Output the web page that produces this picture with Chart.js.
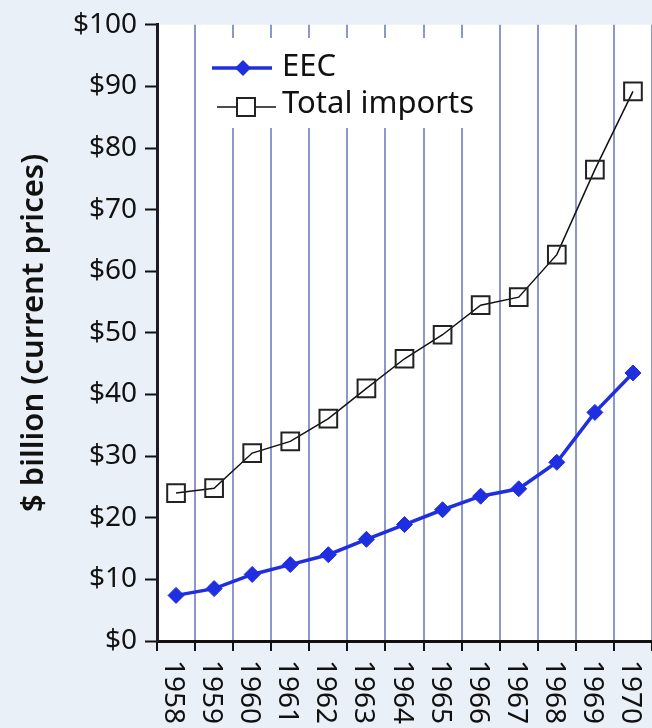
<!DOCTYPE html>
<html>
<head>
<meta charset="utf-8">
<script src="https://cdn.jsdelivr.net/npm/chart.js@4.4.1/dist/chart.umd.min.js"></script>
<style>
  html, body { margin: 0; padding: 0; background: #eaf0f8; }
  #wrap { width: 652px; height: 728px; }
</style>
</head>
<body>
<div id="wrap"><canvas id="chart" width="652" height="728"></canvas></div>
<script>
const years = ['1958', '1959', '1960', '1961', '1962', '1963', '1964', '1965', '1966', '1967', '1968', '1969', '1970'];
const eecValues = [7.4, 8.5, 10.8, 12.4, 14.0, 16.5, 18.9, 21.3, 23.5, 24.7, 29.0, 37.1, 43.5];
const totalValues = [24.0, 24.8, 30.5, 32.4, 36.1, 41.0, 45.8, 49.7, 54.5, 55.8, 62.7, 76.5, 89.2];
const yTicks = [0, 10, 20, 30, 40, 50, 60, 70, 80, 90, 100];

const FONT = "'Noto Sans', 'Open Sans', sans-serif";
const INK = '#111111';
const BLUE = '#1f2fe0';

// white plot background, legend box, rotated year labels
const plotBg = {
  id: 'plotBg',
  beforeDraw(chart) {
    const { ctx, chartArea: a } = chart;
    ctx.save();
    ctx.fillStyle = '#ffffff';
    ctx.fillRect(a.left, a.top, a.right - a.left, a.bottom - a.top);
    ctx.restore();
  },
  beforeDatasetsDraw(chart) {
    const ctx = chart.ctx;
    ctx.save();
    ctx.fillStyle = '#ffffff';
    ctx.fillRect(200, 38, 285, 90);

    const ds = chart.data.datasets;
    // EEC sample
    ctx.strokeStyle = ds[0].borderColor;
    ctx.lineWidth = 3.5;
    ctx.beginPath();
    ctx.moveTo(212, 68);
    ctx.lineTo(272, 68);
    ctx.stroke();
    ctx.fillStyle = ds[0].borderColor;
    ctx.beginPath();
    ctx.moveTo(243, 60); ctx.lineTo(251, 68); ctx.lineTo(243, 76); ctx.lineTo(235, 68);
    ctx.closePath();
    ctx.fill();

    // Total imports sample
    ctx.strokeStyle = INK;
    ctx.lineWidth = 1.5;
    ctx.beginPath();
    ctx.moveTo(217, 107);
    ctx.lineTo(276, 107);
    ctx.stroke();
    ctx.fillStyle = '#ffffff';
    ctx.fillRect(237, 98, 18, 18);
    ctx.lineWidth = 2;
    ctx.strokeStyle = '#222';
    ctx.strokeRect(237, 98, 18, 18);

    ctx.fillStyle = INK;
    ctx.font = '31px ' + FONT;
    ctx.textAlign = 'left';
    ctx.textBaseline = 'middle';
    ctx.fillText(ds[0].label, 282, 67);
    ctx.fillText(ds[1].label, 282, 104);
    ctx.restore();
  },
  afterDraw(chart) {
    // year labels rotated clockwise, reading top to bottom
    const ctx = chart.ctx;
    const xs = chart.scales.x;
    ctx.save();
    ctx.fillStyle = INK;
    ctx.font = '28px ' + FONT;
    ctx.textAlign = 'left';
    ctx.textBaseline = 'middle';
    years.forEach((y, i) => {
      const x = xs.getPixelForValue(i);
      ctx.save();
      ctx.translate(x - 3, 660);
      ctx.rotate(Math.PI / 2);
      ctx.fillText(y, 0, 0);
      ctx.restore();
    });
    ctx.restore();
  }
};

new Chart(document.getElementById('chart'), {
  type: 'line',
  data: {
    labels: years,
    datasets: [
      {
        label: 'EEC',
        data: eecValues,
        borderColor: BLUE,
        backgroundColor: BLUE,
        borderWidth: 3.5,
        pointStyle: 'rectRot',
        pointRadius: 8,
        pointBorderWidth: 1,
        pointBackgroundColor: BLUE,
        pointBorderColor: BLUE,
        tension: 0,
        clip: false
      },
      {
        label: 'Total imports',
        data: totalValues,
        borderColor: INK,
        borderWidth: 1.5,
        pointStyle: 'rect',
        pointRadius: 12.5,
        pointBorderWidth: 2,
        pointBorderColor: '#222',
        pointBackgroundColor: 'rgba(255,255,255,0)',
        tension: 0,
        clip: false
      }
    ]
  },
  options: {
    responsive: false,
    animation: false,
    devicePixelRatio: 1,
    layout: { autoPadding: false, padding: { top: 21, right: 0, left: 0, bottom: 0 } },
    plugins: {
      legend: { display: false },
      tooltip: { enabled: false }
    },
    scales: {
      x: {
        offset: true,
        grid: {
          offset: true,
          color: '#8d97cc',
          lineWidth: 2,
          tickLength: 10,
          tickColor: INK,
          tickWidth: 2
        },
        border: { color: INK, width: 3 },
        ticks: { display: false },
        afterFit(scale) { scale.height = 87; }
      },
      y: {
        min: 0,
        max: 100,
        afterBuildTicks(scale) { scale.ticks = yTicks.map(v => ({ value: v })); },
        grid: {
          drawOnChartArea: false,
          tickLength: 12,
          tickColor: INK,
          tickWidth: 2
        },
        border: { color: '#1a1a2a', width: 3 },
        ticks: {
          color: INK,
          padding: 8,
          font: { family: FONT, size: 28 },
          callback: v => '$' + v
        },
        title: {
          display: true,
          text: '$ billion (current prices)',
          color: INK,
          font: { family: FONT, size: 31, weight: '600', lineHeight: 1.2 },
          padding: { top: 16, bottom: 0 }
        },
        afterFit(scale) { scale.width = 157; }
      }
    }
  },
  plugins: [plotBg]
});
</script>
</body>
</html>
